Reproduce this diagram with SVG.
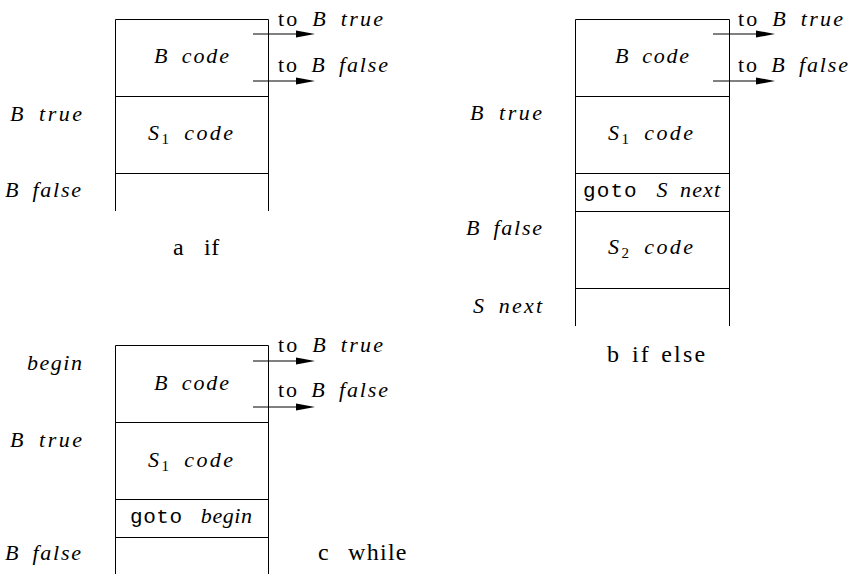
<svg xmlns="http://www.w3.org/2000/svg" width="856" height="574" viewBox="0 0 856 574">
<style>
  .ln{stroke:#000;stroke-width:1;fill:none}
  .it{font-style:italic}
  .up{font-style:normal}
  .sub{font-style:normal;font-size:15px}
</style>
<rect width="856" height="574" fill="#fff"/>

<g id="diagram-a">
  <path class="ln" d="M115.5,211 V19.5 H268.5 V211 M115.5,96.5 H268.5 M115.5,173.5 H268.5"/>
  <text font-family="Liberation Serif" font-size="22" font-style="italic" word-spacing="5" x="154" y="63" textLength="75" lengthAdjust="spacing">B code</text>
  <text font-family="Liberation Serif" font-size="22" font-style="italic" word-spacing="5" x="148" y="140" textLength="85" lengthAdjust="spacing">S<tspan class="sub" dy="4">1</tspan><tspan dy="-4"> code</tspan></text>
  <text font-family="Liberation Serif" font-size="22" font-style="italic" word-spacing="5" x="10" y="121" textLength="72" lengthAdjust="spacing">B true</text>
  <text font-family="Liberation Serif" font-size="22" font-style="italic" word-spacing="5" x="5" y="197" textLength="76" lengthAdjust="spacing">B false</text>
  <text font-family="Liberation Serif" font-size="22" word-spacing="5" x="278" y="26" textLength="105" lengthAdjust="spacing"><tspan class="up">to </tspan><tspan class="it">B true</tspan></text>
  <text font-family="Liberation Serif" font-size="22" word-spacing="5" x="278" y="72" textLength="110" lengthAdjust="spacing"><tspan class="up">to </tspan><tspan class="it">B false</tspan></text>
  <text font-family="Liberation Serif" font-size="24" x="173" y="255">a<tspan x="204" letter-spacing="0.5">if</tspan></text>
</g>

<g id="diagram-b">
  <path class="ln" d="M575.5,326 V19.5 H729.5 V326 M575.5,96.5 H729.5 M575.5,173.5 H729.5 M575.5,211.5 H729.5 M575.5,288.5 H729.5"/>
  <text font-family="Liberation Serif" font-size="22" font-style="italic" word-spacing="5" x="615" y="63" textLength="74" lengthAdjust="spacing">B code</text>
  <text font-family="Liberation Serif" font-size="22" font-style="italic" word-spacing="5" x="608" y="140" textLength="85" lengthAdjust="spacing">S<tspan class="sub" dy="4">1</tspan><tspan dy="-4"> code</tspan></text>
  <text font-family="Liberation Serif" font-size="22" word-spacing="5" x="583" y="197" textLength="137" lengthAdjust="spacing"><tspan font-family="Liberation Mono" font-size="21" class="up">goto </tspan><tspan class="it">S next</tspan></text>
  <text font-family="Liberation Serif" font-size="22" font-style="italic" word-spacing="5" x="608" y="254" textLength="85" lengthAdjust="spacing">S<tspan class="sub" dy="4">2</tspan><tspan dy="-4"> code</tspan></text>
  <text font-family="Liberation Serif" font-size="22" font-style="italic" word-spacing="5" x="470" y="120" textLength="72" lengthAdjust="spacing">B true</text>
  <text font-family="Liberation Serif" font-size="22" font-style="italic" word-spacing="5" x="466" y="235" textLength="76" lengthAdjust="spacing">B false</text>
  <text font-family="Liberation Serif" font-size="22" font-style="italic" word-spacing="5" x="473" y="313" textLength="69" lengthAdjust="spacing">S next</text>
  <text font-family="Liberation Serif" font-size="22" word-spacing="5" x="738" y="26" textLength="105" lengthAdjust="spacing"><tspan class="up">to </tspan><tspan class="it">B true</tspan></text>
  <text font-family="Liberation Serif" font-size="22" word-spacing="5" x="738" y="72" textLength="110" lengthAdjust="spacing"><tspan class="up">to </tspan><tspan class="it">B false</tspan></text>
  <text font-family="Liberation Serif" font-size="24" x="607" y="362">b<tspan x="632" letter-spacing="2.2" word-spacing="2">if else</tspan></text>
</g>

<g id="diagram-c">
  <path class="ln" d="M115.5,574 V345.5 H268.5 V574 M115.5,422.5 H268.5 M115.5,499.5 H268.5 M115.5,537.5 H268.5"/>
  <text font-family="Liberation Serif" font-size="22" font-style="italic" word-spacing="5" x="154" y="390" textLength="75" lengthAdjust="spacing">B code</text>
  <text font-family="Liberation Serif" font-size="22" font-style="italic" word-spacing="5" x="148" y="467" textLength="85" lengthAdjust="spacing">S<tspan class="sub" dy="4">1</tspan><tspan dy="-4"> code</tspan></text>
  <text font-family="Liberation Serif" font-size="22" word-spacing="5" x="130" y="523" textLength="122" lengthAdjust="spacing"><tspan font-family="Liberation Mono" font-size="21" class="up">goto </tspan><tspan class="it">begin</tspan></text>
  <text font-family="Liberation Serif" font-size="22" font-style="italic" x="27" y="370" textLength="55" lengthAdjust="spacing">begin</text>
  <text font-family="Liberation Serif" font-size="22" font-style="italic" word-spacing="5" x="10" y="447" textLength="72" lengthAdjust="spacing">B true</text>
  <text font-family="Liberation Serif" font-size="22" font-style="italic" word-spacing="5" x="5" y="560" textLength="76" lengthAdjust="spacing">B false</text>
  <text font-family="Liberation Serif" font-size="22" word-spacing="5" x="278" y="352" textLength="105" lengthAdjust="spacing"><tspan class="up">to </tspan><tspan class="it">B true</tspan></text>
  <text font-family="Liberation Serif" font-size="22" word-spacing="5" x="278" y="397" textLength="110" lengthAdjust="spacing"><tspan class="up">to </tspan><tspan class="it">B false</tspan></text>
  <text font-family="Liberation Serif" font-size="24" x="318" y="560">c<tspan x="348" letter-spacing="1.3">while</tspan></text>
</g>

<g id="connectors">
  <path class="ln" d="M253,34 H297 M253,81 H297 M713,34 H757 M713,81 H757 M253,361 H297 M253,407 H297"/>
  <path fill="#000" d="M296,30.5 L315,34 L296,37.5 Z M296,77.5 L315,81 L296,84.5 Z M756,30.5 L775,34 L756,37.5 Z M756,77.5 L775,81 L756,84.5 Z M296,357.5 L315,361 L296,364.5 Z M296,403.5 L315,407 L296,410.5 Z"/>
</g>
</svg>
